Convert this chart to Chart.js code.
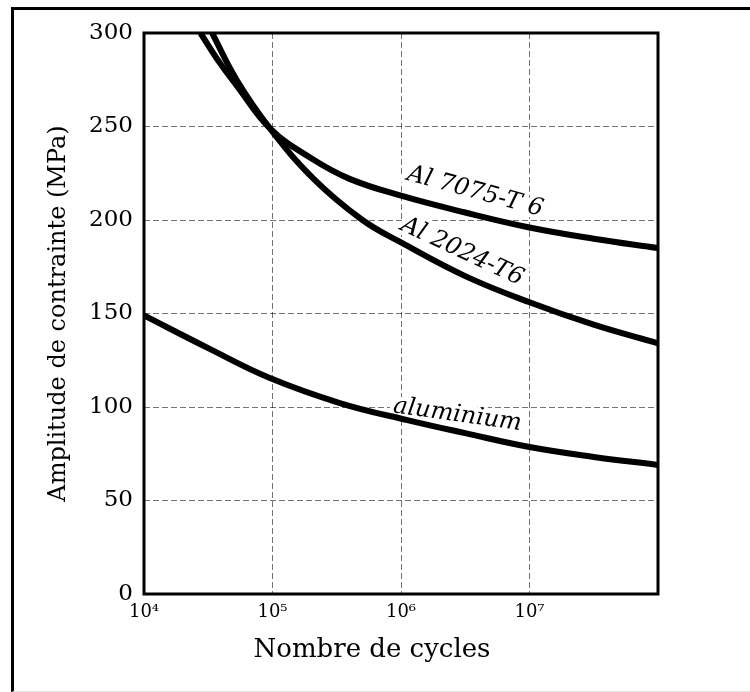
<!DOCTYPE html>
<html lang="fr">
<head>
<meta charset="utf-8">
<title>Amplitude de contrainte - Nombre de cycles</title>
<script src="https://cdn.jsdelivr.net/npm/chart.js@4.4.1/dist/chart.umd.min.js"></script>
<style>
    html, body { margin: 0; padding: 0; background: #fff; }
    body { width: 750px; height: 692px; position: relative; overflow: hidden; }
    #cadre {
        position: absolute; left: 11px; top: 7px; width: 739px; height: 685px;
        box-sizing: border-box;
        border-top: 3px solid #000; border-left: 3px solid #000; border-bottom: 1px solid #e2e2e2;
    }
    #wrap { position: absolute; left: 0; top: 0; width: 750px; height: 692px; }
</style>
</head>
<body>
<div id="cadre"></div>
<div id="wrap"><canvas id="fatigueChart"></canvas></div>
<script>
// Values (cycles on log axis, stress in MPa)
const cycles7075 = [27500, 38900, 52500, 95500, 200000, 398000, 1000000, 3160000, 10000000, 31600000, 100000000];
const stress7075 = [300, 284, 272, 249, 233, 222, 213, 204, 196, 190, 185];

const cycles2024 = [33900, 52500, 95500, 209000, 501000, 1000000, 3160000, 10000000, 31600000, 100000000];
const stress2024 = [300, 275, 249, 222, 200, 188, 170, 156, 144, 134];

const cyclesAlu = [10000, 31600, 95500, 339000, 1120000, 3160000, 10000000, 31600000, 100000000];
const stressAlu = [149, 131.5, 115.5, 102, 93, 86, 78.6, 73.3, 69];

const curveNames = ['Al 7075-T 6', 'Al 2024-T6', 'aluminium'];

const xTicks = [1e4, 1e5, 1e6, 1e7, 1e8];
const xTickLabels = ['10⁴', '10⁵', '10⁶', '10⁷', ''];
const yMin = 0;
const yMax = 300;
const yStep = 50;

const xTitle = 'Nombre de cycles';
const yTitle = 'Amplitude de contrainte (MPa)';

// where the curve names sit (in data units) and how much they are tilted
const curveLabels = [
    { text: curveNames[0], x: 3770000, y: 215, angle: 15 },
    { text: curveNames[1], x: 2990000, y: 183, angle: 25 },
    { text: curveNames[2], x: 2750000, y: 95.7, angle: 8 }
];

function toPoints(xs, ys) {
    return xs.map((x, i) => ({ x: x, y: ys[i] }));
}

function curve(label, xs, ys) {
    return {
        label: label,
        data: toPoints(xs, ys),
        borderColor: '#000',
        borderWidth: 6,
        pointRadius: 0,
        fill: false,
        tension: 0.4
    };
}

// curve names go under the lines, with a white halo that hides the grid
const namesPlugin = {
    id: 'names',
    beforeDatasetsDraw(chart) {
        const { ctx, scales } = chart;
        ctx.save();
        ctx.font = 'italic 24px "DejaVu Serif"';
        ctx.textAlign = 'center';
        ctx.textBaseline = 'middle';
        ctx.lineJoin = 'round';
        curveLabels.forEach(l => {
            ctx.save();
            ctx.translate(scales.x.getPixelForValue(l.x), scales.y.getPixelForValue(l.y));
            ctx.rotate(l.angle * Math.PI / 180);
            ctx.strokeStyle = '#fff';
            ctx.lineWidth = 8;
            ctx.strokeText(l.text, 0, 0);
            ctx.fillStyle = '#000';
            ctx.fillText(l.text, 0, 0);
            ctx.restore();
        });
        ctx.restore();
    },
    afterDraw(chart) {
        const { ctx, chartArea: a } = chart;
        ctx.save();
        // cadre du graphique
        ctx.strokeStyle = '#000';
        ctx.lineWidth = 3;
        ctx.strokeRect(a.left, a.top, a.right - a.left, a.bottom - a.top);

        ctx.fillStyle = '#000';
        ctx.font = '26px "DejaVu Serif"';
        ctx.textAlign = 'center';
        ctx.textBaseline = 'middle';
        ctx.fillText(xTitle, 372, 650);
        ctx.restore();
    }
};

const gridStyle = { color: 'rgba(0,0,0,0.55)', lineWidth: 1, drawTicks: false };

new Chart(document.getElementById('fatigueChart').getContext('2d'), {
    type: 'line',
    data: {
        datasets: [
            curve(curveNames[0], cycles7075, stress7075),
            curve(curveNames[1], cycles2024, stress2024),
            curve(curveNames[2], cyclesAlu, stressAlu)
        ]
    },
    options: {
        responsive: true,
        maintainAspectRatio: false,
        animation: false,
        layout: { padding: { left: 0, top: 33, right: 92, bottom: 0 } },
        plugins: { legend: { display: false }, tooltip: { enabled: false } },
        scales: {
            x: {
                type: 'logarithmic',
                min: xTicks[0],
                max: xTicks[xTicks.length - 1],
                afterBuildTicks: scale => { scale.ticks = xTicks.map(v => ({ value: v })); },
                afterFit: scale => { scale.height = 98; },
                grid: gridStyle,
                border: { display: false, dash: [6, 3] },
                ticks: {
                    autoSkip: false, maxRotation: 0, minRotation: 0, padding: 8,
                    color: '#000',
                    font: { family: 'DejaVu Serif', size: 18 },
                    callback: (value, index) => xTickLabels[index]
                },
                title: { display: false }
            },
            y: {
                min: yMin,
                max: yMax,
                afterFit: scale => { scale.width = 144; },
                grid: gridStyle,
                border: { display: false, dash: [6, 3] },
                ticks: {
                    stepSize: yStep, padding: 11, color: '#000',
                    font: { family: 'DejaVu Serif', size: 23 }
                },
                title: {
                    display: true,
                    text: yTitle,
                    color: '#000',
                    font: { family: 'DejaVu Serif', size: 24 },
                    padding: { top: 44, bottom: 0 }
                }
            }
        }
    },
    plugins: [namesPlugin]
});
</script>
</body>
</html>
